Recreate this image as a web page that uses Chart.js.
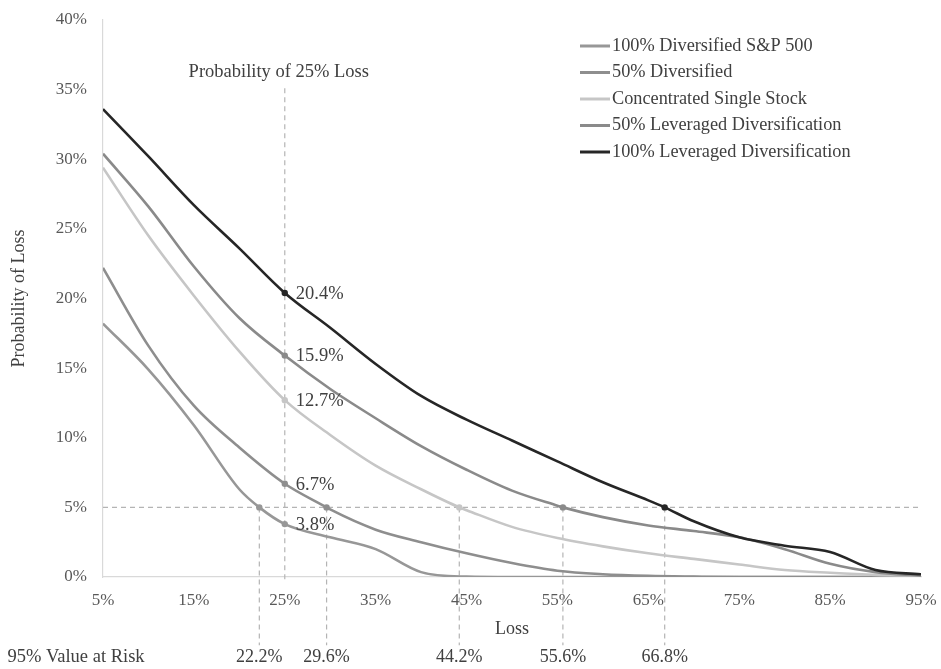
<!DOCTYPE html>
<html>
<head>
<meta charset="utf-8">
<title>Probability of Loss</title>
<script src="https://cdn.jsdelivr.net/npm/chart.js@4.4.1/dist/chart.umd.min.js"></script>
<style>
  html, body { margin: 0; padding: 0; background: #fff; }
  #wrap { width: 941px; height: 669px; }
</style>
</head>
<body>
<div id="wrap"><canvas id="lossChart"></canvas></div>
<script>
// loss levels (%) on the x axis
const lossGrid = [5, 10, 15, 20, 25, 30, 35, 40, 45, 50, 55, 60, 65, 70, 75, 80, 85, 90, 95];

const seriesNames = [
  '100% Diversified S&P 500',
  '50% Diversified',
  'Concentrated Single Stock',
  '50% Leveraged Diversification',
  '100% Leveraged Diversification'
];
const seriesColors = ['#979797', '#8e8e8e', '#c6c6c6', '#8a8a8a', '#262626'];

// probability of loss (%) at each loss level
const sp500Prob      = [18.2, 14.9, 10.9, 6.3, 3.8, 2.85, 2.0, 0.35, 0.03, 0, 0, 0, 0, 0, 0, 0, 0, 0, 0];
const halfDivProb    = [22.2, 16.6, 12.3, 9.3, 6.7, 4.85, 3.4, 2.5, 1.7, 1.0, 0.45, 0.2, 0.08, 0.03, 0, 0, 0, 0, 0];
const singleProb     = [29.4, 24.5, 20.2, 16.2, 12.7, 10.2, 8.0, 6.3, 4.8, 3.6, 2.8, 2.2, 1.7, 1.3, 0.9, 0.5, 0.3, 0.15, 0.1];
const halfLevProb    = [30.4, 26.6, 22.3, 18.6, 15.9, 13.5, 11.4, 9.4, 7.7, 6.2, 5.12, 4.3, 3.7, 3.3, 2.85, 2.0, 0.95, 0.35, 0.1];
const fullLevProb    = [33.6, 30.2, 26.7, 23.6, 20.4, 17.9, 15.3, 13.0, 11.3, 9.8, 8.3, 6.8, 5.5, 4.0, 2.85, 2.25, 1.8, 0.5, 0.2];
const seriesProbs = [sp500Prob, halfDivProb, singleProb, halfLevProb, fullLevProb];

// probability of a 25% loss for each portfolio
const quarterLoss = 25;
const quarterLossProb = [3.8, 6.7, 12.7, 15.9, 20.4];

// 95% value at risk: loss where each curve crosses 5%
const varLevel = 5;
const varLoss = [22.2, 29.6, 44.2, 55.6, 66.8];

const serif = "'Liberation Serif', 'DejaVu Serif', serif";
const textColor = '#404040';
const refColor = '#b4b4b4';

// merge grid points with the marked points, flagging the marked ones
function buildSeries(i) {
  const marks = [
    { x: quarterLoss, y: quarterLossProb[i], mark: true },
    { x: varLoss[i], y: varLevel, mark: true }
  ];
  const pts = lossGrid
    .map((x, j) => ({ x: x, y: seriesProbs[i][j], mark: false }))
    .filter(p => !marks.some(m => m.x === p.x));
  return pts.concat(marks).sort((a, b) => a.x - b.x);
}

const datasets = seriesNames.map((name, i) => ({
  label: name,
  data: buildSeries(i),
  borderColor: seriesColors[i],
  backgroundColor: seriesColors[i],
  borderWidth: 2.6,
  cubicInterpolationMode: 'monotone',
  pointRadius: ctx => (ctx.raw && ctx.raw.mark ? 3.2 : 0),
  pointBorderWidth: 0,
  pointHoverRadius: 0,
  order: 4 - i
}));

// dashed guide lines
const refStyle = {
  borderColor: refColor,
  borderWidth: 1.2,
  borderDash: [5, 4],
  pointRadius: 0,
  clip: false,
  order: 20
};
datasets.push(Object.assign({ label: 'var5', data: [{ x: 5, y: varLevel }, { x: 95, y: varLevel }] }, refStyle));
datasets.push(Object.assign({ label: 'q25', data: [{ x: quarterLoss, y: 35.1 }, { x: quarterLoss, y: -0.4 }] }, refStyle));
varLoss.forEach((v, i) => {
  datasets.push(Object.assign({ label: 'var' + i, data: [{ x: v, y: varLevel }, { x: v, y: -4.9 }] }, refStyle));
});

const notesPlugin = {
  id: 'notes',
  afterDatasetsDraw(chart) {
    const ctx = chart.ctx;
    const xs = chart.scales.x;
    const ys = chart.scales.y;
    ctx.save();
    ctx.font = '18.5px ' + serif;
    ctx.fillStyle = textColor;
    ctx.textBaseline = 'middle';

    ctx.textAlign = 'center';
    ctx.fillText('Probability of 25% Loss', xs.getPixelForValue(quarterLoss) - 6, 72);

    ctx.textAlign = 'left';
    quarterLossProb.forEach(v => {
      ctx.fillText(v.toFixed(1) + '%', xs.getPixelForValue(quarterLoss) + 11, ys.getPixelForValue(v) + 1);
    });

    const rowY = 657;
    ctx.textAlign = 'center';
    ctx.fillText('95% Value at Risk', 76, rowY);
    ctx.font = '18px ' + serif;
    varLoss.forEach(v => {
      ctx.fillText(v.toFixed(1) + '%', xs.getPixelForValue(v), rowY);
    });

    // legend
    ctx.font = '18.3px ' + serif;
    ctx.textAlign = 'left';
    seriesNames.forEach((name, i) => {
      const y = 46 + i * 26.5;
      ctx.strokeStyle = seriesColors[i];
      ctx.lineWidth = 3;
      ctx.beginPath();
      ctx.moveTo(580, y);
      ctx.lineTo(610, y);
      ctx.stroke();
      ctx.fillText(name, 612, y);
    });
    ctx.restore();
  }
};

new Chart(document.getElementById('lossChart'), {
  type: 'line',
  data: { datasets: datasets },
  options: {
    responsive: true,
    maintainAspectRatio: false,
    animation: false,
    layout: { padding: { left: 0, right: 20, top: 20, bottom: 0 } },
    plugins: {
      legend: { display: false },
      tooltip: { enabled: false }
    },
    scales: {
      x: {
        type: 'linear',
        min: 5,
        max: 95,
        ticks: {
          stepSize: 10,
          padding: 13,
          color: '#595959',
          font: { family: serif, size: 17 },
          callback: v => v + '%'
        },
        grid: { display: false, drawTicks: false },
        border: { color: '#d9d9d9', width: 1.2 },
        title: {
          display: true,
          text: 'Loss',
          color: textColor,
          font: { family: serif, size: 18 },
          padding: { top: 4, bottom: 29 }
        },
        afterFit: scale => {
          scale.height = 92;
          scale.paddingLeft = 0;
          scale.paddingRight = 0;
        }
      },
      y: {
        min: 0,
        max: 40,
        ticks: {
          stepSize: 5,
          padding: 16,
          color: '#595959',
          font: { family: serif, size: 17 },
          callback: v => v + '%'
        },
        grid: { display: false, drawTicks: false },
        border: { color: '#d9d9d9', width: 1.2 },
        title: {
          display: true,
          text: 'Probability of Loss',
          color: textColor,
          font: { family: serif, size: 18 },
          padding: { top: 8, bottom: 0 }
        },
        afterFit: scale => {
          scale.width = 103;
          scale.paddingTop = 0;
          scale.paddingBottom = 0;
        }
      }
    }
  },
  plugins: [notesPlugin]
});
</script>
</body>
</html>
